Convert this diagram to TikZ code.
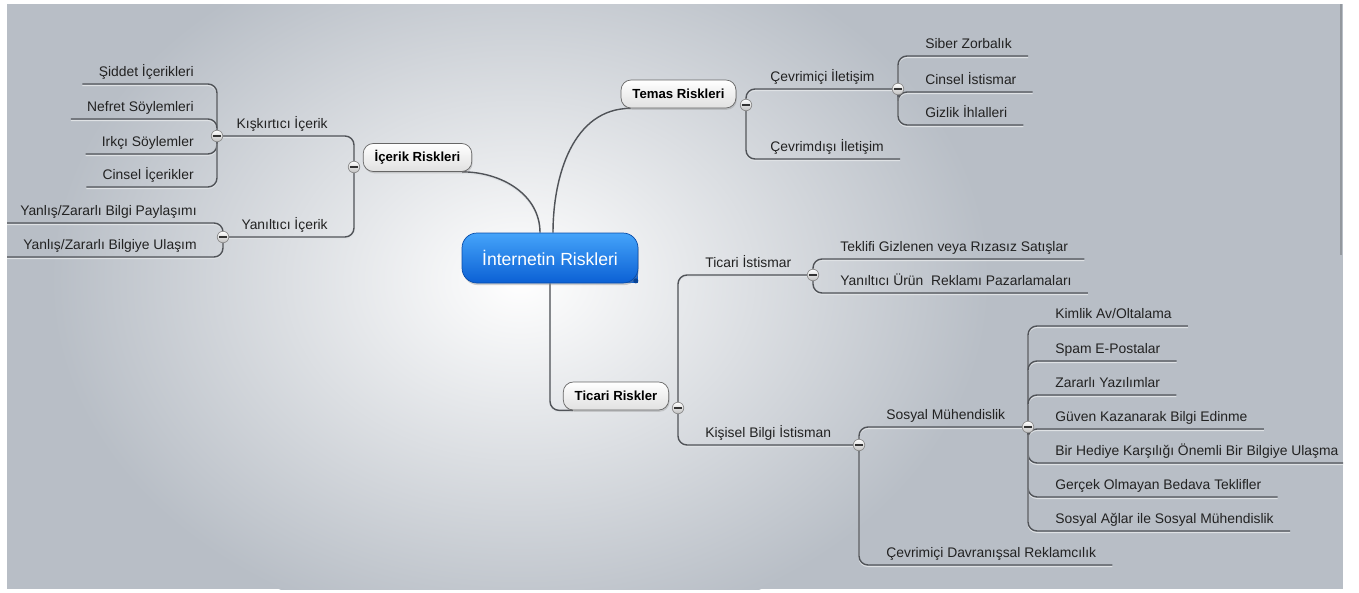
\documentclass[tikz,border=0pt]{standalone}
\usepackage{fontspec}
\setmainfont{Liberation Sans}
\usepackage{tikz}
\usetikzlibrary{positioning, shadows, backgrounds}
\pgfdeclarelayer{edges}
\pgfsetlayers{background,edges,main}
\definecolor{bggray}{HTML}{B8BEC6}
\definecolor{linkgray}{HTML}{505358}
\definecolor{txtgray}{HTML}{222222}
\definecolor{rootlight}{HTML}{45A4FA}
\definecolor{rootdark}{HTML}{0B60D4}

\begin{document}
\begin{tikzpicture}[
  x=0.02cm, y=-0.02cm,
  root/.style={draw=rootdark!80!black, rounded corners=0.3cm, top color=rootlight, bottom color=rootdark, text=white, font=\fontsize{10}{12}\selectfont, minimum width=3.52cm, minimum height=1.0cm, drop shadow={opacity=0.35, shadow xshift=0.5pt, shadow yshift=-1.2pt}},
  topic/.style={draw=black!60, rounded corners=0.2cm, top color=white, bottom color=black!12, text=black, font=\bfseries\fontsize{7.5}{9}\selectfont, inner xsep=6.5pt, minimum height=0.56cm, drop shadow={opacity=0.3, shadow xshift=0.5pt, shadow yshift=-1pt}},
  leaf/.style={text=txtgray, font=\fontsize{7.9}{9.5}\selectfont, inner xsep=0.32cm, inner ysep=1.5pt, text height=1.5ex, text depth=0.25em},
  toggle/.style={circle, draw=black!45, top color=white, bottom color=black!25, minimum size=0.23cm, inner sep=0pt, path picture={\draw[black!80, line width=1.1pt] ([xshift=-2.3pt]path picture bounding box.center) -- ([xshift=2.3pt]path picture bounding box.center);}},
  link/.style={draw=linkgray, line width=0.8pt, rounded corners=0.18cm, preaction={draw=white!55!bggray, line width=0.7pt, transform canvas={yshift=-0.8pt}}}
]
\useasboundingbox (0,0) rectangle (1359,592);

% background panel
\begin{pgfonlayer}{background}
\fill[white] (0,0) rectangle (1359,592);
\fill[bggray] (7,4) rectangle (1343,589);
\begin{scope}
\clip (7,4) rectangle (1343,589);
\shade[inner color=white, outer color=bggray] (520,280) ellipse [x radius=9.4cm, y radius=7.2cm];
\end{scope}
\draw[bggray!80!black, line width=0.8pt] (1341,4) -- (1341,255);
\end{pgfonlayer}

% main topics
\node[root] (root) at (550,258) {İnternetin Riskleri};
\node[topic] (icerik) at (417.5,157.5) {İçerik Riskleri};
\node[topic] (temas) at (678.5,94) {Temas Riskleri};
\node[topic] (ticari) at (616,396) {Ticari Riskler};
\fill[rootdark!70!black] ([xshift=-0.05cm,yshift=0.05cm]root.south east) circle (0.05cm);

% toggles
\node[toggle] (tic) at (354,167) {};
\node[toggle] (tkis) at (217,136) {};
\node[toggle] (tyan) at (223,237) {};
\node[toggle] (ttm) at (746,105) {};
\node[toggle] (tci) at (898,89) {};
\node[toggle] (ttr) at (678,408) {};
\node[toggle] (ttis) at (813,275) {};
\node[toggle] (tks) at (859,445) {};
\node[toggle] (tsm) at (1028,427) {};

% icerik riskleri
\node[leaf, anchor=south east] (kiskirtici) at (344,136) {Kışkırtıcı İçerik};
\node[leaf, anchor=south east] (yaniltici) at (344,237) {Yanıltıcı İçerik};
\node[leaf, anchor=south east] (siddet) at (210,84) {Şiddet İçerikleri};
\node[leaf, anchor=south east] (nefret) at (210,119) {Nefret Söylemleri};
\node[leaf, anchor=south east] (irkci) at (210,154) {Irkçı Söylemler};
\node[leaf, anchor=south east] (cinselic) at (210,187) {Cinsel İçerikler};
\node[leaf, anchor=south east] (paylasim) at (213,223) {Yanlış/Zararlı Bilgi Paylaşımı};
\node[leaf, anchor=south east] (ulasim) at (213,257) {Yanlış/Zararlı Bilgiye Ulaşım};

% temas riskleri
\node[leaf, anchor=south west] (cevrimici) at (754,89) {Çevrimiçi İletişim};
\node[leaf, anchor=south west] (cevrimdisi) at (754,159) {Çevrimdışı İletişim};
\node[leaf, anchor=south west] (siber) at (909,56) {Siber Zorbalık};
\node[leaf, anchor=south west] (cinselist) at (909,92) {Cinsel İstismar};
\node[leaf, anchor=south west] (gizlik) at (909,125) {Gizlik İhlalleri};

% ticari riskler
\node[leaf, anchor=south west] (ticist) at (689,275) {Ticari İstismar};
\node[leaf, anchor=south west] (kisisel) at (689,445) {Kişisel Bilgi İstisman};
\node[leaf, anchor=south west] (teklif) at (824,259) {Teklifi Gizlenen veya Rızasız Satışlar};
\node[leaf, anchor=south west] (yurun) at (824,293) {Yanıltıcı Ürün\ \ Reklamı Pazarlamaları};
\node[leaf, anchor=south west] (sosyal) at (870,427) {Sosyal Mühendislik};
\node[leaf, anchor=south west] (reklam) at (870,565) {Çevrimiçi Davranışsal Reklamcılık};
\node[leaf, anchor=south west] (kimlik) at (1039,326) {Kimlik Av/Oltalama};
\node[leaf, anchor=south west] (spam) at (1039,361) {Spam E-Postalar};
\node[leaf, anchor=south west] (zararli) at (1039,395) {Zararlı Yazılımlar};
\node[leaf, anchor=south west] (guven) at (1039,429) {Güven Kazanarak Bilgi Edinme};
\node[leaf, anchor=south west] (hediye) at (1039,463) {Bir Hediye Karşılığı Önemli Bir Bilgiye Ulaşma};
\node[leaf, anchor=south west] (bedava) at (1039,497) {Gerçek Olmayan Bedava Teklifler};
\node[leaf, anchor=south west] (sosyalag) at (1039,531) {Sosyal Ağlar ile Sosyal Mühendislik};

% connectors
\begin{pgfonlayer}{edges}
\begin{scope}
\clip (7,4) rectangle (1343,589);
\fill[rootdark] ([xshift=-0.3cm]root.south east) rectangle ([yshift=0.3cm]root.south east);
\draw[link] ([xshift=-0.2cm]icerik.south east) to[out=0, in=90] ([xshift=-0.2cm]root.north);
\draw[link] ([xshift=0.06cm]root.north) to[out=90, in=180] ([xshift=0.2cm]temas.south west);
\draw[link] (root.south) |- ([xshift=0.2cm]ticari.south west);
\draw[link] (tic) |- (tkis);
\draw[link] (tic) |- (tyan);
\draw[link] (tkis) |- (siddet.south west);
\draw[link] (tkis) |- (nefret.south west);
\draw[link] (tkis) |- (irkci.south west);
\draw[link] (tkis) |- (cinselic.south west);
\draw[link] (tyan) |- (paylasim.south west);
\draw[link] (tyan) |- (ulasim.south west);
\draw[link] (ttm) |- (tci);
\draw[link] (ttm) |- (cevrimdisi.south east);
\draw[link] (tci) |- (siber.south east);
\draw[link] (tci) |- (cinselist.south east);
\draw[link] (tci) |- (gizlik.south east);
\draw[link] (ttr) |- (ttis);
\draw[link] (ttr) |- (tks);
\draw[link] (ttis) |- (teklif.south east);
\draw[link] (ttis) |- (yurun.south east);
\draw[link] (tks) |- (tsm);
\draw[link] (tks) |- (reklam.south east);
\draw[link] (tsm) |- (kimlik.south east);
\draw[link] (tsm) |- (spam.south east);
\draw[link] (tsm) |- (zararli.south east);
\draw[link] (tsm) |- (guven.south east);
\draw[link] (tsm) |- (hediye.south east);
\draw[link] (tsm) |- (bedava.south east);
\draw[link] (tsm) |- (sosyalag.south east);
\end{scope}
\end{pgfonlayer}
\end{tikzpicture}
\end{document}
